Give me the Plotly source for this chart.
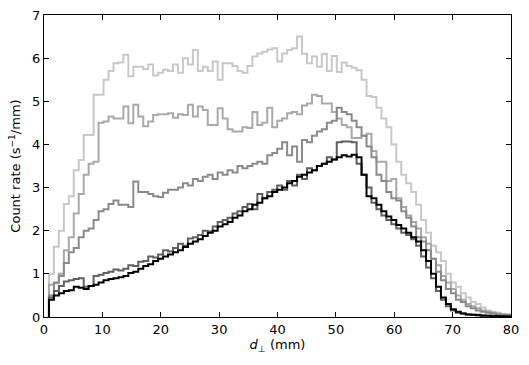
import plotly.graph_objects as go

# Histogram binning (mm)
bin_start = 0.85
bin_width = 0.85

# Count rate (s^-1/mm) per bin, five series from lightest to black
series_a = [1.0, 1.63, 2.0, 2.62, 2.8, 3.4, 3.64, 4.22, 4.22, 5.15, 5.15, 5.5, 5.7, 5.88, 5.9, 6.08, 5.58,
            5.8, 5.8, 5.75, 5.85, 5.6, 5.66, 5.73, 5.7, 5.85, 5.66, 6.0, 5.85, 6.19, 5.7, 5.8, 5.7, 5.92,
            5.5, 5.88, 5.88, 5.82, 5.7, 5.66, 5.82, 6.04, 6.11, 6.15, 6.2, 6.23, 5.92, 6.11, 6.19, 6.23,
            6.5, 6.1, 5.88, 6.04, 5.8, 6.1, 5.7, 6.05, 5.68, 5.9, 5.82, 5.78, 5.72, 5.5, 5.12, 5.1, 4.85,
            4.6, 4.4, 4.0, 3.6, 3.3, 3.1, 2.9, 2.6, 2.25, 1.95, 1.65, 1.5, 1.3, 1.0, 0.8, 0.7, 0.55, 0.45,
            0.35, 0.3, 0.22, 0.15, 0.12, 0.1, 0.07, 0.05]
series_b = [0.75, 0.78, 1.0, 1.55, 1.85, 2.4, 2.85, 3.3, 3.55, 3.6, 4.5, 4.53, 4.65, 4.6, 4.6, 4.88, 4.49,
            4.92, 4.65, 4.42, 4.53, 4.68, 4.7, 4.7, 4.72, 4.62, 4.7, 4.68, 4.92, 4.65, 4.88, 4.8, 4.45,
            4.45, 4.84, 4.6, 4.35, 4.3, 4.3, 4.4, 4.38, 4.75, 4.45, 4.5, 4.85, 4.4, 4.55, 4.6, 4.72, 4.75,
            4.7, 4.9, 4.95, 5.15, 5.12, 4.95, 4.95, 4.75, 4.6, 4.45, 4.4, 4.15, 4.15, 4.2, 4.25, 3.85, 3.6,
            3.6, 3.15, 3.2, 2.75, 2.55, 2.35, 2.2, 2.05, 1.85, 1.7, 1.35, 1.2, 0.95, 0.8, 0.65, 0.5, 0.4,
            0.3, 0.25, 0.2, 0.15, 0.12, 0.1, 0.08, 0.06, 0.05]
series_c = [0.5, 0.8, 0.95, 1.25, 1.5, 1.6, 1.85, 2.0, 2.05, 2.25, 2.45, 2.5, 2.62, 2.7, 2.6, 2.6, 2.55,
            3.14, 2.9, 2.9, 2.85, 2.8, 2.78, 2.88, 2.95, 2.95, 3.0, 3.1, 3.05, 3.2, 3.15, 3.25, 3.3, 3.2,
            3.35, 3.3, 3.4, 3.35, 3.5, 3.45, 3.5, 3.55, 3.6, 3.55, 3.75, 3.8, 3.9, 4.05, 3.75, 3.95, 3.6,
            4.1, 4.05, 4.2, 4.3, 4.35, 4.5, 4.55, 4.85, 4.75, 4.7, 4.55, 4.4, 4.2, 3.95, 3.7, 3.3, 3.15,
            2.9, 2.75, 2.7, 2.45, 2.3, 2.1, 1.85, 1.75, 1.55, 1.35, 1.05, 0.85, 0.65, 0.55, 0.4, 0.35,
            0.25, 0.2, 0.15, 0.12, 0.1, 0.08, 0.06, 0.05, 0.05]
series_d = [0.45, 0.6, 0.72, 0.82, 0.85, 0.88, 0.9, 0.7, 0.72, 0.95, 0.98, 1.02, 1.05, 1.1, 1.08, 1.12,
            1.2, 1.18, 1.28, 1.3, 1.4, 1.38, 1.45, 1.55, 1.52, 1.6, 1.7, 1.65, 1.82, 1.85, 1.9, 2.0, 1.98,
            2.1, 2.2, 2.25, 2.3, 2.4, 2.45, 2.55, 2.62, 2.5, 2.85, 2.75, 2.9, 2.95, 3.05, 2.95, 3.15, 3.05,
            3.3, 3.2, 3.45, 3.4, 3.5, 3.55, 3.7, 3.65, 4.05, 4.07, 4.07, 4.05, 3.55, 3.3, 3.0, 2.65, 2.5,
            2.35, 2.25, 2.15, 2.05, 1.95, 1.9, 1.8, 1.65, 1.4, 1.15, 0.9, 0.6, 0.4, 0.25, 0.15, 0.1, 0.08,
            0.06, 0.05, 0.05, 0.04, 0.03, 0.03, 0.03, 0.02, 0.02]
series_e = [0.4, 0.5, 0.55, 0.6, 0.62, 0.7, 0.68, 0.65, 0.72, 0.75, 0.8, 0.85, 0.88, 0.9, 0.92, 0.95,
            1.02, 1.05, 1.12, 1.18, 1.22, 1.3, 1.35, 1.4, 1.45, 1.5, 1.55, 1.62, 1.7, 1.75, 1.8, 1.88, 1.95,
            2.0, 2.1, 2.15, 2.2, 2.3, 2.35, 2.45, 2.5, 2.6, 2.65, 2.75, 2.8, 2.9, 2.95, 3.0, 3.1, 3.15,
            3.25, 3.3, 3.35, 3.4, 3.5, 3.55, 3.6, 3.65, 3.7, 3.75, 3.72, 3.76, 3.7, 3.3, 2.8, 2.75, 2.6,
            2.45, 2.33, 2.25, 2.13, 2.05, 1.95, 1.85, 1.75, 1.55, 1.3, 1.0, 0.7, 0.45, 0.3, 0.18, 0.12,
            0.08, 0.06, 0.05, 0.04, 0.03, 0.03, 0.02, 0.02, 0.02, 0.01]

series_list = [series_a, series_b, series_c, series_d, series_e]
colors = ["#c8c8c8", "#a9a9a9", "#8a8a8a", "#606060", "#000000"]

x_ticks = [0, 10, 20, 30, 40, 50, 60, 70, 80]
y_ticks = [0, 1, 2, 3, 4, 5, 6, 7]

fig = go.Figure()
for vals, col in zip(series_list, colors):
    n = len(vals)
    edges = [bin_start + bin_width * k for k in range(n + 1)]
    xs = [edges[0]] + edges + [edges[-1]]
    ys = [0] + vals + [vals[-1], 0]
    fig.add_trace(go.Scatter(x=xs, y=ys, mode="lines", line=dict(shape="hv", color=col, width=2),
                             showlegend=False, hoverinfo="skip"))

axis_common = dict(showline=True, linecolor="black", linewidth=1, mirror="ticks", ticks="inside",
                   ticklen=5, tickwidth=1, tickcolor="black", showgrid=False, zeroline=False,
                   automargin=False,
                   tickfont=dict(family="DejaVu Sans", size=13, color="black"))

fig.update_xaxes(range=[0, 80], tickvals=x_ticks, title=dict(text="<i>d</i><sub>⊥</sub> (mm)", standoff=4,
                 font=dict(family="DejaVu Sans", size=13, color="black")), **axis_common)
fig.update_yaxes(range=[0, 7], tickvals=y_ticks, title=dict(text="Count rate (s<sup>−1</sup>/mm)", standoff=8,
                 font=dict(family="DejaVu Sans", size=13, color="black")), **axis_common)

fig.update_layout(width=529, height=365, margin=dict(l=44, r=18, t=15, b=48),
                  plot_bgcolor="white", paper_bgcolor="white")

fig.write_html("out.html", config={"displayModeBar": False},
               post_script="document.body.style.margin='0';")
